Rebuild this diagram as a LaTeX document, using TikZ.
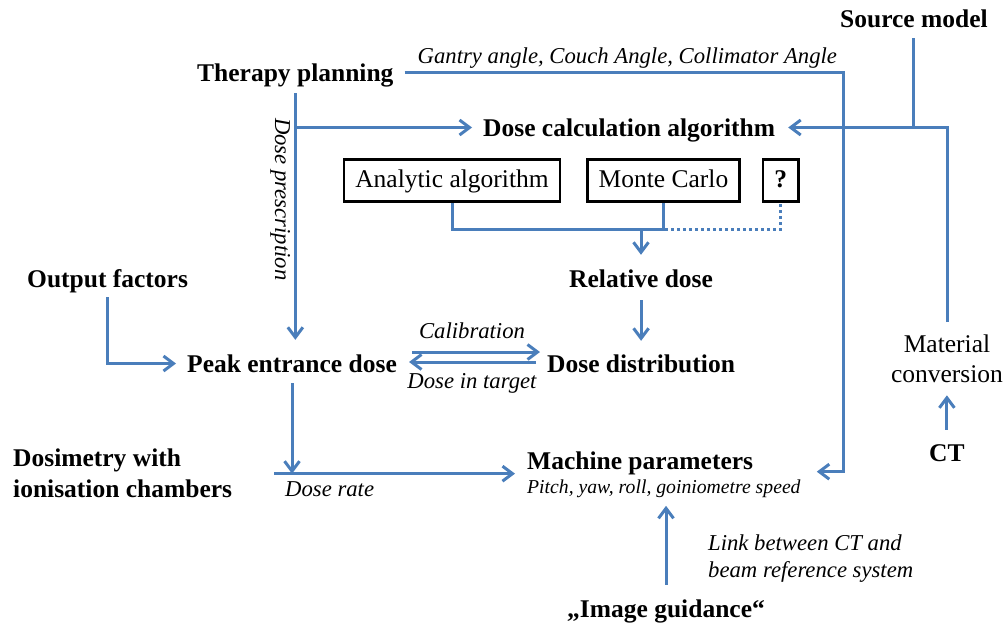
\documentclass[tikz,border=0pt]{standalone}
\usepackage{fontspec}
\setmainfont{Liberation Serif}
\usepackage{xcolor}
\usetikzlibrary{arrows.meta, positioning}
\definecolor{flowblue}{RGB}{74,126,187}

\tikzset{
	head/.style={font=\bfseries\fontsize{25.5}{31}\selectfont, inner sep=0pt, text height=17pt, text depth=0pt},
	note/.style={font=\itshape\fontsize{22.7}{27}\selectfont, inner sep=0pt},
	algo/.style={draw, line width=2.6pt, font=\fontsize{25.5}{30}\selectfont, minimum height=42.5pt, inner xsep=11.2pt, inner ysep=0pt, text height=18pt, text depth=5pt},
	flow/.style={draw=flowblue, line width=3pt, -{Straight Barb[length=10pt, width=15pt]}},
	link/.style={draw=flowblue, line width=3pt},
}

\begin{document}
\begin{tikzpicture}[x=1pt, y=-1pt]
			\useasboundingbox (0,0) rectangle (1005,624);

			\node[head, anchor=base west] (tp) at (197,81) {Therapy planning};
			\node[head, anchor=base west] (src) at (840,27) {Source model};
			\node[head, anchor=base west] (dc) at (483,136) {Dose calculation algorithm};
			\node[algo] (aa) at (452,180.5) {Analytic algorithm};
			\node[algo, right = 25pt of aa] (mc) {Monte Carlo};
			\node[algo, right = 21pt of mc, font=\bfseries\fontsize{25.5}{30}\selectfont] (qm) {?};
			\node[head, anchor=base west] (rd) at (569,287) {Relative dose};
			\node[head, anchor=base west] (of) at (27,287) {Output factors};
			\node[head, anchor=base west] (pk) at (187,372) {Peak entrance dose};
			\node[head, anchor=base west] (dd) at (547,372) {Dose distribution};
			\node[align=left, anchor=north west, inner sep=0pt, font=\fontsize{19.7}{24}\selectfont] (mp) at (527,452) {{\bfseries\fontsize{25.5}{24}\selectfont Machine parameters}\\{\itshape Pitch, yaw, roll, goiniometre speed}};
			\node[align=left, anchor=north west, inner sep=0pt, font=\bfseries\fontsize{25.5}{31}\selectfont] (ds) at (13,449) {Dosimetry with\\ionisation chambers};
			\node[align=center, anchor=north, inner sep=0pt, font=\fontsize{25.5}{30}\selectfont] (mat) at (947,335) {Material\\conversion};
			\node[head, anchor=base west] (ct) at (929,461) {CT};
			\node[head, anchor=base west] (ig) at (567,617) {„Image guidance“};
			\node[note, rotate=-90, anchor=base west] (dp) at (275,118) {Dose prescription};
			\node[note, anchor=base west] (dr) at (285,496) {Dose rate};
			\node[note, align=left, anchor=north west] (lk) at (708,535) {Link between CT and\\beam reference system};

			\coordinate (gc) at (843,300);
			\coordinate (jn) at (641,229);

			\draw[flow, shorten <=11pt, shorten >=16pt] (tp.east) -| node[note, above=3pt, pos=0.26]{Gantry angle, Couch Angle, Collimator Angle} (gc) |- ([yshift=3.5pt]mp.east);
			\draw[flow, shorten <=12pt, shorten >=15pt] (tp.south) -- (tp.south |- pk.north);
			\draw[flow, shorten >=11pt] (tp.south |- dc.west) -- (dc.west);
			\draw[link, shorten <=11pt] (src.south) -- (src.south |- dc.east);
			\draw[flow, shorten <=13pt, shorten >=13pt] (mat.north) |- (dc.east);
			\draw[link] (aa.south) |- (jn) -| (mc.south);
			\draw[link, dash pattern=on 3pt off 3pt] (jn) -| (qm.south);
			\draw[flow, shorten >=15pt] (jn) -- (jn |- rd.north);
			\draw[flow, shorten <=13pt, shorten >=14pt] (rd.south) -- (rd.south |- dd.north);
			\draw[flow, shorten <=10pt, shorten >=11pt] (of.south) |- (pk.west);
			\draw[flow, shorten <=15pt, shorten >=7pt] ([yshift=11.5pt]pk.east) -- node[note, above=12pt]{Calibration} ([yshift=11.5pt]dd.west);
			\draw[flow, shorten <=11pt, shorten >=12pt] ([yshift=1.5pt]dd.west) -- node[note, below=9.5pt]{Dose in target} ([yshift=1.5pt]pk.east);
			\draw[flow, shorten <=11pt] (pk.south) -- (pk.south |- ds.east);
			\draw[flow, shorten <=42pt, shorten >=12pt] (ds.east) -- (ds.east -| mp.west);
			\draw[flow, shorten <=15pt, shorten >=7.5pt] (ig.north) -- (ig.north |- mp.south);
			\draw[flow, shorten <=14pt, shorten >=12pt] (ct.north) -- (ct.north |- mat.south);
\end{tikzpicture}
\end{document}
